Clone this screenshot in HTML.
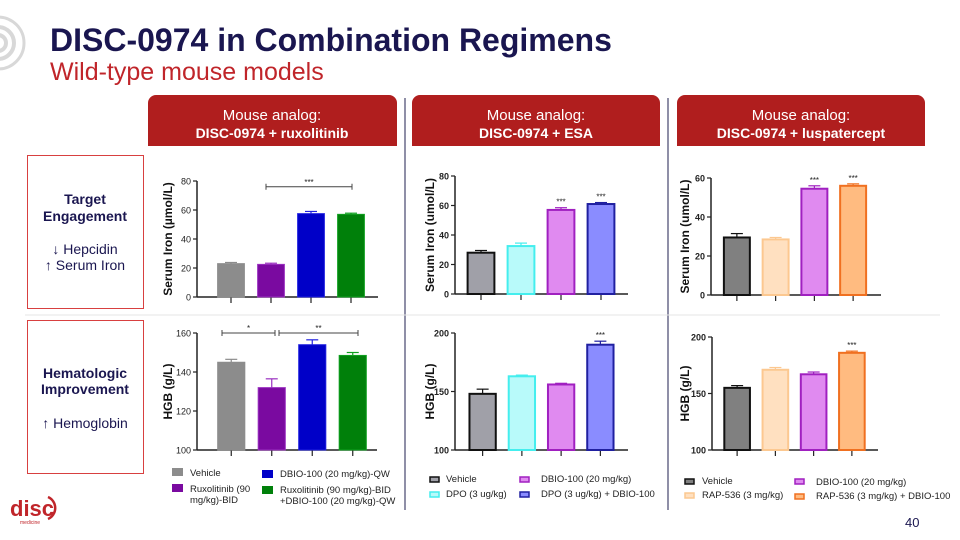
<!DOCTYPE html>
<html><head><meta charset="utf-8"><style>
body{margin:0;width:960px;height:540px;overflow:hidden;background:#fff;font-family:"Liberation Sans",sans-serif}
svg{position:absolute;left:0;top:0}
</style></head><body>
<svg id="s" width="960" height="540" viewBox="0 0 960 540" font-family="Liberation Sans, sans-serif">
<g fill="none" stroke="#d8d8d8">
<circle cx="-2" cy="43" r="26" stroke-width="3"/><circle cx="-2" cy="43" r="16" stroke-width="4"/><circle cx="-2" cy="43" r="8" stroke-width="4"/></g>
<text x="50" y="51" font-size="32" font-weight="bold" fill="#1a1650">DISC-0974 in Combination Regimens</text>
<text x="50" y="80" font-size="25" fill="#c0252a">Wild-type mouse models</text>
<g><path d="M148 146V103a8 8 0 0 1 8-8h233a8 8 0 0 1 8 8v43z" fill="#b01e1e"/>
<text x="272" y="120" font-size="15" fill="#fff" text-anchor="middle">Mouse analog:</text><text x="272" y="138" font-size="14" font-weight="bold" fill="#fff" text-anchor="middle">DISC-0974 + ruxolitinib</text></g>
<g><path d="M412 146V103a8 8 0 0 1 8-8h232a8 8 0 0 1 8 8v43z" fill="#b01e1e"/>
<text x="536" y="120" font-size="15" fill="#fff" text-anchor="middle">Mouse analog:</text><text x="536" y="138" font-size="14" font-weight="bold" fill="#fff" text-anchor="middle">DISC-0974 + ESA</text></g>
<g><path d="M677 146V103a8 8 0 0 1 8-8h232a8 8 0 0 1 8 8v43z" fill="#b01e1e"/>
<text x="801" y="120" font-size="15" fill="#fff" text-anchor="middle">Mouse analog:</text><text x="801" y="138" font-size="14" font-weight="bold" fill="#fff" text-anchor="middle">DISC-0974 + luspatercept</text></g>
<line x1="405" y1="98" x2="405" y2="510" stroke="#6a6a8a" stroke-width="1.5"/>
<line x1="668" y1="98" x2="668" y2="510" stroke="#6a6a8a" stroke-width="1.5"/>
<line x1="25" y1="315" x2="940" y2="315" stroke="#e4e4e4" stroke-width="1"/>
<g><rect x="27.5" y="155.5" width="116" height="153" fill="#fff" stroke="#d84040"/>
<text x="85" y="204" font-size="14" font-weight="bold" fill="#1a1650" text-anchor="middle">Target</text>
<text x="85" y="221" font-size="14" font-weight="bold" fill="#1a1650" text-anchor="middle">Engagement</text>
<text x="85" y="254" font-size="14" fill="#1a1650" text-anchor="middle">↓ Hepcidin</text>
<text x="85" y="270" font-size="14" fill="#1a1650" text-anchor="middle">↑ Serum Iron</text></g>
<g><rect x="27.5" y="320.5" width="116" height="153" fill="#fff" stroke="#d84040"/>
<text x="85" y="378" font-size="14" font-weight="bold" fill="#1a1650" text-anchor="middle">Hematologic</text>
<text x="85" y="394" font-size="14" font-weight="bold" fill="#1a1650" text-anchor="middle">Improvement</text>
<text x="85" y="428" font-size="14" fill="#1a1650" text-anchor="middle">↑ Hemoglobin</text></g>
<g><text x="10" y="516" font-size="22" font-weight="bold" fill="#c0252a">disc</text>
<path d="M48 497a12 12 0 0 1 0 22" fill="none" stroke="#c0252a" stroke-width="2.5"/>
<text x="20" y="524" font-size="5" fill="#c0252a">medicine</text></g>
<text x="905" y="527" font-size="13" fill="#1a1650">40</text>
<g id="charts"></g>
<g font-size="9.5" fill="#222">
<rect x="172" y="468" width="11" height="8" fill="#8c8c8c"/><text x="190" y="476">Vehicle</text>
<rect x="172" y="484" width="11" height="8" fill="#7a0aa0"/><text x="190" y="492">Ruxolitinib (90</text><text x="190" y="503">mg/kg)-BID</text>
<rect x="262" y="470" width="11" height="8" fill="#0000c8"/><text x="280" y="477">DBIO-100 (20 mg/kg)-QW</text>
<rect x="262" y="486" width="11" height="8" fill="#00800a"/><text x="280" y="493">Ruxolitinib (90 mg/kg)-BID</text><text x="280" y="504">+DBIO-100 (20 mg/kg)-QW</text></g>
<g font-size="9.5" fill="#222">
<rect x="430" y="477" width="9" height="5" fill="#a0a0a8" stroke="#111" stroke-width="1.5"/><text x="446" y="482">Vehicle</text>
<rect x="430" y="492" width="9" height="5" fill="#b8fafa" stroke="#4ee" stroke-width="1.5"/><text x="446" y="497">DPO (3 ug/kg)</text>
<rect x="520" y="477" width="9" height="5" fill="#e08af0" stroke="#a020c0" stroke-width="1.5"/><text x="541" y="482">DBIO-100 (20 mg/kg)</text>
<rect x="520" y="492" width="9" height="5" fill="#8a8cff" stroke="#2020a0" stroke-width="1.5"/><text x="541" y="497">DPO (3 ug/kg) + DBIO-100</text></g>
<g font-size="9.5" fill="#222">
<rect x="685" y="479" width="9" height="5" fill="#808080" stroke="#111" stroke-width="1.5"/><text x="702" y="484">Vehicle</text>
<rect x="685" y="493" width="9" height="5" fill="#ffe0c0" stroke="#fcc890" stroke-width="1.5"/><text x="702" y="498">RAP-536 (3 mg/kg)</text>
<rect x="795" y="479" width="9" height="5" fill="#e08af0" stroke="#a020c0" stroke-width="1.5"/><text x="816" y="485">DBIO-100 (20 mg/kg)</text>
<rect x="795" y="494" width="9" height="5" fill="#ffbb80" stroke="#f07020" stroke-width="1.5"/><text x="816" y="499">RAP-536 (3 mg/kg) + DBIO-100</text></g>
</svg>
<script>
const catsRux=["Vehicle","Ruxolitinib","DBIO-100","Ruxolitinib+DBIO-100"];
const catsEsa=["Vehicle","DPO","DBIO-100","DPO+DBIO-100"];
const catsLus=["Vehicle","RAP-536","DBIO-100","RAP-536+DBIO-100"];
const ironRux=[23,22.5,57.5,57];const ironRuxErr=[0.8,0.8,1.5,0.8];
const hgbRux=[145,132,154,148.5];const hgbRuxErr=[1.5,4.5,2.5,1.5];
const ironEsa=[28,32.5,57,61];const ironEsaErr=[1.5,2,1.5,1];
const hgbEsa=[148,163,156,190];const hgbEsaErr=[4,1,1,3];
const ironLus=[29.5,28.5,54.5,56];const ironLusErr=[2,1,1.5,1];
const hgbLus=[155,171,167,186];const hgbLusErr=[2,2,2,1.5];
const ticksIronRux=[0,20,40,60,80];const ticksHgbRux=[100,120,140,160];
const ticksIronEsa=[0,20,40,60,80];const ticksHgbEsa=[100,150,200];
const ticksIronLus=[0,20,40,60];const ticksHgbLus=[100,150,200];
const starsEsaIron=["","","***","***"];const starsEsaHgb=["","","","***"];
const starsLusIron=["","","***","***"];const starsLusHgb=["","","","***"];
const NS="http://www.w3.org/2000/svg";
const root=document.getElementById("charts");
function mk(t,a,p){const e=document.createElementNS(NS,t);for(const k in a)e.setAttribute(k,a[k]);(p||root).appendChild(e);return e;}
const palRux={f:["#8c8c8c","#7a0aa0","#0000c8","#00800a"],s:["#8c8c8c","#9a30c0","#2020e0","#10a020"]};
const palEsa={f:["#a0a0a8","#b8fafa","#e08af0","#8a8cff"],s:["#111","#4ee","#a020c0","#2020a0"]};
const palLus={f:["#808080","#ffe0c0","#e08af0","#ffbb80"],s:["#111","#fcc890","#a020c0","#f07020"]};
function chart(name,c){
  const g=mk("g",{});
  
  
  const y=v=>c.yb-(v-c.vmin)/(c.vmax-c.vmin)*(c.yb-c.yt);
  const step=(c.bx1-c.bx0)/c.vals.length;
  const bw=step*0.67;
  mk("line",{x1:c.ax,y1:y(c.vmax),x2:c.ax,y2:c.yb,stroke:"#222","stroke-width":1.5},g);
  mk("line",{x1:c.ax,y1:c.yb,x2:c.xe,y2:c.yb,stroke:"#222","stroke-width":1.5},g);
  c.ticks.forEach(t=>{
    mk("line",{x1:c.ax-4,y1:y(t),x2:c.ax,y2:y(t),stroke:"#222","stroke-width":1.2},g);
    const tx=mk("text",{x:c.ax-6,y:y(t)+3.5,"font-size":9,"font-weight":c.bold?"bold":"normal","text-anchor":"end",fill:"#222"},g);
    tx.textContent=t;
  });
  c.vals.forEach((v,i)=>{
    const cx=c.bx0+(i+0.5)*step;
    const e=c.errs[i];
    mk("line",{x1:cx,y1:c.yb,x2:cx,y2:c.yb+6,stroke:"#222","stroke-width":1.2},g);
    mk("line",{x1:cx,y1:y(v),x2:cx,y2:y(v+e),stroke:c.pal.s[i],"stroke-width":1.2},g);
    mk("line",{x1:cx-6,y1:y(v+e),x2:cx+6,y2:y(v+e),stroke:c.pal.s[i],"stroke-width":1.2},g);
    const r=mk("rect",{x:cx-bw/2,y:y(v),width:bw,height:c.yb-y(v),fill:c.pal.f[i],stroke:c.pal.s[i],"stroke-width":c.sw},g);
    
    
    if(c.stars&&c.stars[i]){const s=mk("text",{x:cx,y:y(v+e)-3,"font-size":8,"text-anchor":"middle",fill:"#222"},g);s.textContent=c.stars[i];}
  });
  const lb=mk("text",{transform:`translate(${c.lx},${(c.yt+c.yb)/2}) rotate(-90)`,"font-size":12,"font-weight":"bold","text-anchor":"middle",fill:"#111"},g);
  lb.textContent=c.label;
  return {g,y,step};
}
function bracket(g,x1,x2,yy,t){
  mk("line",{x1:x1,y1:yy,x2:x2,y2:yy,stroke:"#444","stroke-width":1},g);
  mk("line",{x1:x1,y1:yy-3,x2:x1,y2:yy+3,stroke:"#444","stroke-width":1},g);
  mk("line",{x1:x2,y1:yy-3,x2:x2,y2:yy+3,stroke:"#444","stroke-width":1},g);
  const s=mk("text",{x:(x1+x2)/2,y:yy-2,"font-size":8,"text-anchor":"middle",fill:"#222"},g);s.textContent=t;
}
const c1=chart("serum-iron-ruxolitinib-chart",{cats:catsRux,vals:ironRux,errs:ironRuxErr,ticks:ticksIronRux,vmin:0,vmax:80,ax:197,xe:378,yb:297,yt:181,bx0:211,bx1:371,pal:palRux,sw:1,label:"Serum Iron (µmol/L)",lx:172});
bracket(c1.g,266,352,c1.y(76),"***");
const c2=chart("hgb-ruxolitinib-chart",{cats:catsRux,vals:hgbRux,errs:hgbRuxErr,ticks:ticksHgbRux,vmin:100,vmax:160,ax:197,xe:377,yb:450,yt:333,bx0:211,bx1:373,pal:palRux,sw:1,label:"HGB (g/L)",lx:172});
bracket(c2.g,222,275,c2.y(160),"*");bracket(c2.g,279,358,c2.y(160),"**");
chart("serum-iron-esa-chart",{cats:catsEsa,vals:ironEsa,errs:ironEsaErr,ticks:ticksIronEsa,vmin:0,vmax:80,ax:455,xe:628,yb:294,yt:176,bx0:461,bx1:621,pal:palEsa,sw:2,label:"Serum Iron (umol/L)",lx:434,bold:true,stars:starsEsaIron});
chart("hgb-esa-chart",{cats:catsEsa,vals:hgbEsa,errs:hgbEsaErr,ticks:ticksHgbEsa,vmin:100,vmax:200,ax:455,xe:628,yb:450,yt:333,bx0:463,bx1:620,pal:palEsa,sw:2,label:"HGB (g/L)",lx:434,bold:true,stars:starsEsaHgb});
chart("serum-iron-luspatercept-chart",{cats:catsLus,vals:ironLus,errs:ironLusErr,ticks:ticksIronLus,vmin:0,vmax:60,ax:711,xe:881,yb:295,yt:178,bx0:717.5,bx1:872.5,pal:palLus,sw:2,label:"Serum Iron (umol/L)",lx:689,bold:true,stars:starsLusIron});
chart("hgb-luspatercept-chart",{cats:catsLus,vals:hgbLus,errs:hgbLusErr,ticks:ticksHgbLus,vmin:100,vmax:200,ax:712,xe:878,yb:450,yt:337,bx0:718,bx1:871,pal:palLus,sw:2,label:"HGB (g/L)",lx:689,bold:true,stars:starsLusHgb});
</script>
</body></html>
